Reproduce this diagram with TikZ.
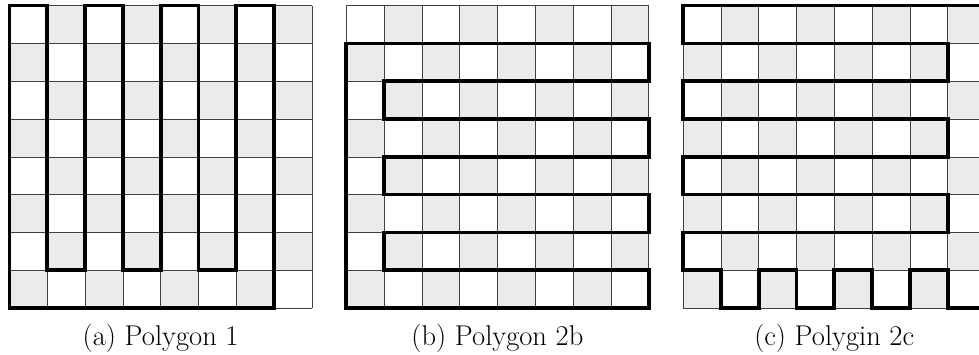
\documentclass[tikz,border=0pt]{standalone}
\usepackage{fontspec}
\usetikzlibrary{calc}
\definecolor{cellgray}{gray}{0.92}
\tikzset{
  gridline/.style={line width=0.4pt, draw=black!75},
  polyline/.style={line width=2.8pt, draw=black, line join=miter},
  captext/.style={anchor=base, inner sep=0pt, font=\fontsize{21.5}{25}\selectfont},
}
% checkerboard of 8x8 unit cells with its lower left corner at #1
\newcommand{\checkboard}[1]{%
  \begin{scope}[shift={#1}]
    \foreach \i in {0,...,7}{
      \foreach \j in {0,...,7}{
        \pgfmathtruncatemacro{\cellparity}{mod(\i+\j,2)}
        \ifnum\cellparity=0
          \fill[cellgray] (\i,\j) rectangle ++(1,1);
        \fi
      }
    }
    \draw[gridline] (0,0) grid (8,8);
  \end{scope}}
\begin{document}
\begin{tikzpicture}[x=1cm,y=1cm]
  \useasboundingbox (0,0) rectangle (25.90,9.366);
  \clip (0,0) rectangle (25.90,9.366);
  \fill[white] (0,0) rectangle (25.90,9.366);

  \coordinate (A) at (0.25,1.217);
  \coordinate (B) at (9.16,1.217);
  \coordinate (C) at (18.07,1.217);

  \checkboard{(A)}
  \checkboard{(B)}
  \checkboard{(C)}

  % polygon 1: four columns joined along the bottom row
  \begin{scope}[shift={(A)}]
    \draw[polyline] (0,0) -- (0,8) -- (1,8) -- (1,1) -- (2,1) -- (2,8)
      -- (3,8) -- (3,1) -- (4,1) -- (4,8) -- (5,8) -- (5,1) -- (6,1)
      -- (6,8) -- (7,8) -- (7,0) -- cycle;
  \end{scope}

  % polygon 2b: comb of rows hanging off the left column
  \begin{scope}[shift={(B)}]
    \draw[polyline] (0,0) -- (0,7) -- (8,7) -- (8,6) -- (1,6) -- (1,5)
      -- (8,5) -- (8,4) -- (1,4) -- (1,3) -- (8,3) -- (8,2) -- (1,2)
      -- (1,1) -- (8,1) -- (8,0) -- cycle;
  \end{scope}

  % polygon 2c: serpentine rows with a crenellated bottom
  \begin{scope}[shift={(C)}]
    \draw[polyline] (0,8) -- (0,7) -- (7,7) -- (7,6) -- (0,6) -- (0,5)
      -- (7,5) -- (7,4) -- (0,4) -- (0,3) -- (7,3) -- (7,2) -- (0,2)
      -- (0,1) -- (1,1) -- (1,0) -- (2,0) -- (2,1) -- (3,1) -- (3,0)
      -- (4,0) -- (4,1) -- (5,1) -- (5,0) -- (6,0) -- (6,1) -- (7,1)
      -- (7,0) -- (8,0) -- (8,8) -- cycle;
  \end{scope}

  \node[captext] (capA) at ($(A)+(4,-0.98)$) {(a) Polygon 1};
  \node[captext] (capB) at ($(B)+(4,-0.98)$) {(b) Polygon 2b};
  \node[captext] (capC) at ($(C)+(4,-0.98)$) {(c) Polygin 2c};
\end{tikzpicture}
\end{document}
